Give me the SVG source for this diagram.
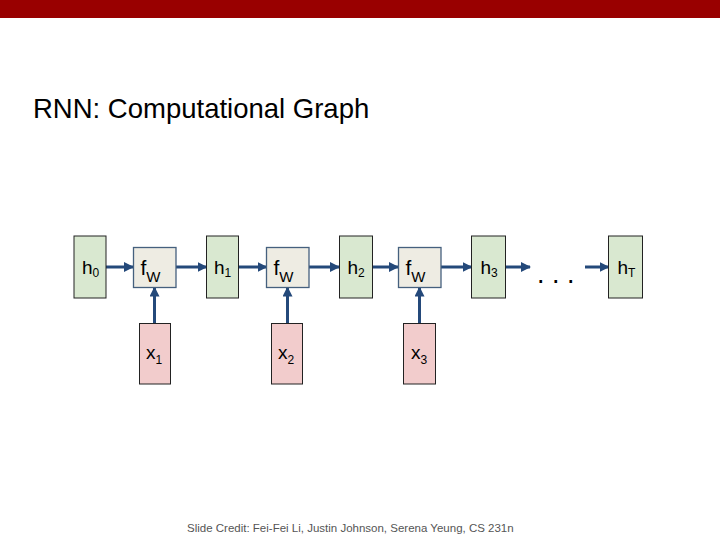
<svg xmlns="http://www.w3.org/2000/svg" width="720" height="540" viewBox="0 0 720 540">
<defs>
<style>
text{font-family:"Liberation Sans",Arial,sans-serif;fill:#000}
.h{fill:#d9e8d0;stroke:#222;stroke-width:1}
.f{fill:#eeece3;stroke:#45607e;stroke-width:1.3}
.x{fill:#f2cccc;stroke:#222;stroke-width:1}
.lbl{font-size:19px}
.sub{font-size:12px}
.fl{font-size:21px}
.fs{font-size:15px}
.con{stroke:#24497a;stroke-width:3;fill:none;marker-end:url(#ah)}
</style>
<marker id="ah" markerWidth="10" markerHeight="10" viewBox="0 0 10 10" refX="9" refY="5" orient="auto" markerUnits="userSpaceOnUse">
<path d="M0,0 L10,5 L0,10 Z" fill="#24497a"/>
</marker>
</defs>
<rect x="0" y="0" width="720" height="18" fill="#990000"/>
<text x="33" y="118" font-size="27.5">RNN: Computational Graph</text>

<g id="connectors">
<line class="con" x1="106" y1="267" x2="133" y2="267"/>
<line class="con" x1="176" y1="267" x2="206.5" y2="267"/>
<line class="con" x1="238.5" y1="267" x2="266.5" y2="267"/>
<line class="con" x1="309" y1="267" x2="339" y2="267"/>
<line class="con" x1="373" y1="267" x2="398" y2="267"/>
<line class="con" x1="441" y1="267" x2="471.5" y2="267"/>
<line class="con" x1="506" y1="267" x2="530" y2="267"/>
<line class="con" x1="585" y1="267" x2="608.5" y2="267"/>
<line class="con" x1="154.5" y1="323" x2="154.5" y2="287.5"/>
<line class="con" x1="287.5" y1="323" x2="287.5" y2="287.5"/>
<line class="con" x1="419.5" y1="323" x2="419.5" y2="287.5"/>
</g>

<g id="h0"><rect class="h" x="74" y="236" width="32" height="62"/><text class="lbl" x="82" y="274">h<tspan class="sub" dy="3">0</tspan></text></g>
<g id="fW1"><rect class="f" x="133.5" y="247.5" width="42.5" height="40"/><text class="fl" x="140.5" y="275">f<tspan class="fs" dy="6.5">W</tspan></text></g>
<g id="h1"><rect class="h" x="206.5" y="236" width="32" height="62"/><text class="lbl" x="214" y="274">h<tspan class="sub" dy="3">1</tspan></text></g>
<g id="fW2"><rect class="f" x="266.5" y="247.5" width="42.5" height="40"/><text class="fl" x="273.5" y="275">f<tspan class="fs" dy="6.5">W</tspan></text></g>
<g id="h2"><rect class="h" x="339.5" y="236" width="33" height="62"/><text class="lbl" x="347.5" y="274">h<tspan class="sub" dy="3">2</tspan></text></g>
<g id="fW3"><rect class="f" x="398.5" y="247.5" width="42.5" height="40"/><text class="fl" x="405.5" y="275">f<tspan class="fs" dy="6.5">W</tspan></text></g>
<g id="h3"><rect class="h" x="471.5" y="236" width="34" height="62"/><text class="lbl" x="480.5" y="274">h<tspan class="sub" dy="3">3</tspan></text></g>
<g id="dots"><text x="537" y="283" font-size="27">. . .</text></g>
<g id="hT"><rect class="h" x="608.5" y="236" width="34" height="62"/><text class="lbl" x="617.5" y="274">h<tspan class="sub" dy="3">T</tspan></text></g>
<g id="x1"><rect class="x" x="139.5" y="323.5" width="31" height="60.5"/><text class="lbl" x="146" y="359">x<tspan class="sub" dy="5">1</tspan></text></g>
<g id="x2"><rect class="x" x="271.5" y="323.5" width="31" height="60.5"/><text class="lbl" x="278" y="359">x<tspan class="sub" dy="5">2</tspan></text></g>
<g id="x3"><rect class="x" x="403.5" y="323.5" width="32" height="60.5"/><text class="lbl" x="411" y="359">x<tspan class="sub" dy="5">3</tspan></text></g>

<text x="187" y="532" font-size="11.5" style="fill:#555">Slide Credit: Fei-Fei Li, Justin Johnson, Serena Yeung, CS 231n</text>
</svg>
